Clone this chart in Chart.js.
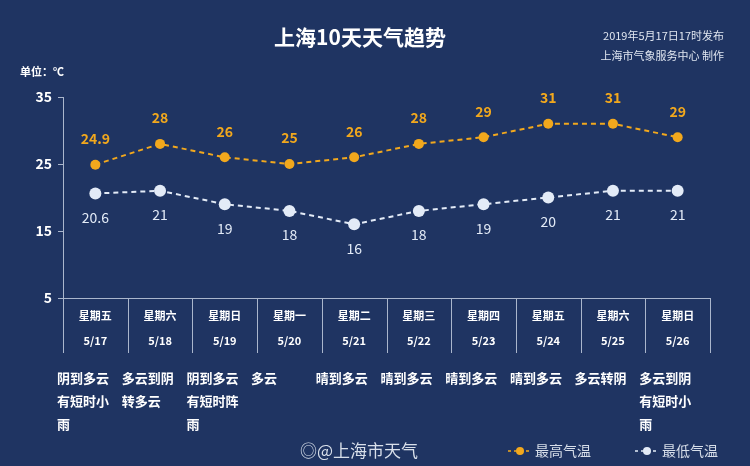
<!DOCTYPE html>
<html><head><meta charset="utf-8">
<script src="https://cdn.jsdelivr.net/npm/chart.js@4/dist/chart.umd.min.js"></script>
<style>html,body{margin:0;padding:0;background:#1f3462;}#w{width:750px;height:466px;}</style>
</head><body><div id="w"><canvas id="c" width="750" height="466"></canvas></div>
<script>
const dates=['5/17','5/18','5/19','5/20','5/21','5/22','5/23','5/24','5/25','5/26'];
const weekdays=['星期五','星期六','星期日','星期一','星期二','星期三','星期四','星期五','星期六','星期日'];
const weather=[['阴到多云','有短时小','雨'],['多云到阴','转多云'],['阴到多云','有短时阵','雨'],['多云'],['晴到多云'],['晴到多云'],['晴到多云'],['晴到多云'],['多云转阴'],['多云到阴','有短时小','雨']];
const highs=[24.9,28,26,25,26,28,29,31,31,29];
const lows=[20.6,21,19,18,16,18,19,20,21,21];
const yTicks=[5,15,25,35];
const F='"Noto Sans CJK SC","Noto Sans",sans-serif';
const HI='#f2a81d', LO='#e3ebf7';
const extra={id:'extra',afterDraw(ch){
 const c=ch.ctx,x=ch.scales.x,y=ch.scales.y,a=ch.chartArea;
 c.save();
 c.fillStyle='#fff';c.textAlign='center';c.textBaseline='middle';
 c.font='bold 21px '+F;c.fillText('上海10天天气趋势',360,37);
 c.textAlign='right';c.font='11px '+F;c.fillStyle='#e0e6f0';
 c.fillText('2019年5月17日17时发布',724,36);c.fillText('上海市气象服务中心 制作',724,56);
 c.textAlign='left';c.font='bold 11px '+F;c.fillStyle='#fff';c.fillText('单位：℃',20,72);
 const step=(a.right-a.left)/dates.length;
 c.strokeStyle='#aab6cc';c.lineWidth=1;c.beginPath();
 for(let i=0;i<=dates.length;i++){const px=Math.round(a.left+i*step)+0.5;c.moveTo(px,a.bottom);c.lineTo(px,a.bottom+55);}
 c.stroke();
 c.textAlign='center';
 for(let i=0;i<dates.length;i++){
  const px=x.getPixelForValue(i);
  c.fillStyle='#fff';c.font='bold 11px '+F;
  c.fillText(weekdays[i],px,a.bottom+18);c.fillText(dates[i],px,a.bottom+43);
  c.font='bold 13px '+F;c.textAlign='left';
  weather[i].forEach((t,k)=>c.fillText(t,a.left-6+i*step,378+k*23));
  c.textAlign='center';
  c.font='bold 14px '+F;c.fillStyle=HI;c.fillText(String(highs[i]),px,y.getPixelForValue(highs[i])-26);
  c.font='14px '+F;c.fillStyle=LO;c.fillText(String(lows[i]),px,y.getPixelForValue(lows[i])+24);
 }
 c.font='17px '+F;c.fillStyle='#d8dfea';c.textAlign='left';c.fillText('◎@上海市天气',300,451);
 c.font='14px '+F;
 [[508,HI,'最高气温'],[635,LO,'最低气温']].forEach(([lx,col,t])=>{
  c.strokeStyle=col;c.setLineDash([3,3]);c.lineWidth=1.5;c.beginPath();c.moveTo(lx,451);c.lineTo(lx+24,451);c.stroke();c.setLineDash([]);
  c.fillStyle=col;c.beginPath();c.arc(lx+12,451,4,0,7);c.fill();
  c.fillStyle='#d8dfea';c.fillText(t,lx+27,451);
 });
 c.restore();
}};
new Chart(document.getElementById('c'),{type:'line',
 data:{labels:dates,datasets:[
  {data:highs,borderColor:HI,backgroundColor:HI,borderDash:[5,4],borderWidth:2,pointRadius:5,pointBorderWidth:0},
  {data:lows,borderColor:LO,backgroundColor:LO,borderDash:[5,4],borderWidth:2,pointRadius:6,pointBorderWidth:0}]},
 options:{responsive:false,animation:false,events:[],
  layout:{padding:{top:97,right:40,left:0,bottom:0}},
  plugins:{legend:{display:false},tooltip:{enabled:false}},
  scales:{
   x:{offset:true,grid:{display:false},border:{color:'#aab6cc',width:1},ticks:{display:false},afterFit(s){s.height=168;}},
   y:{min:5,max:35,afterBuildTicks(s){s.ticks=yTicks.map(v=>({value:v}));},
      grid:{drawOnChartArea:false,color:'#aab6cc',tickLength:5},border:{color:'#aab6cc'},
      ticks:{color:'#fff',font:{family:F,size:14,weight:'bold'},padding:6},afterFit(s){s.width=63;}}
  }},
 plugins:[extra]});
</script></body></html>
